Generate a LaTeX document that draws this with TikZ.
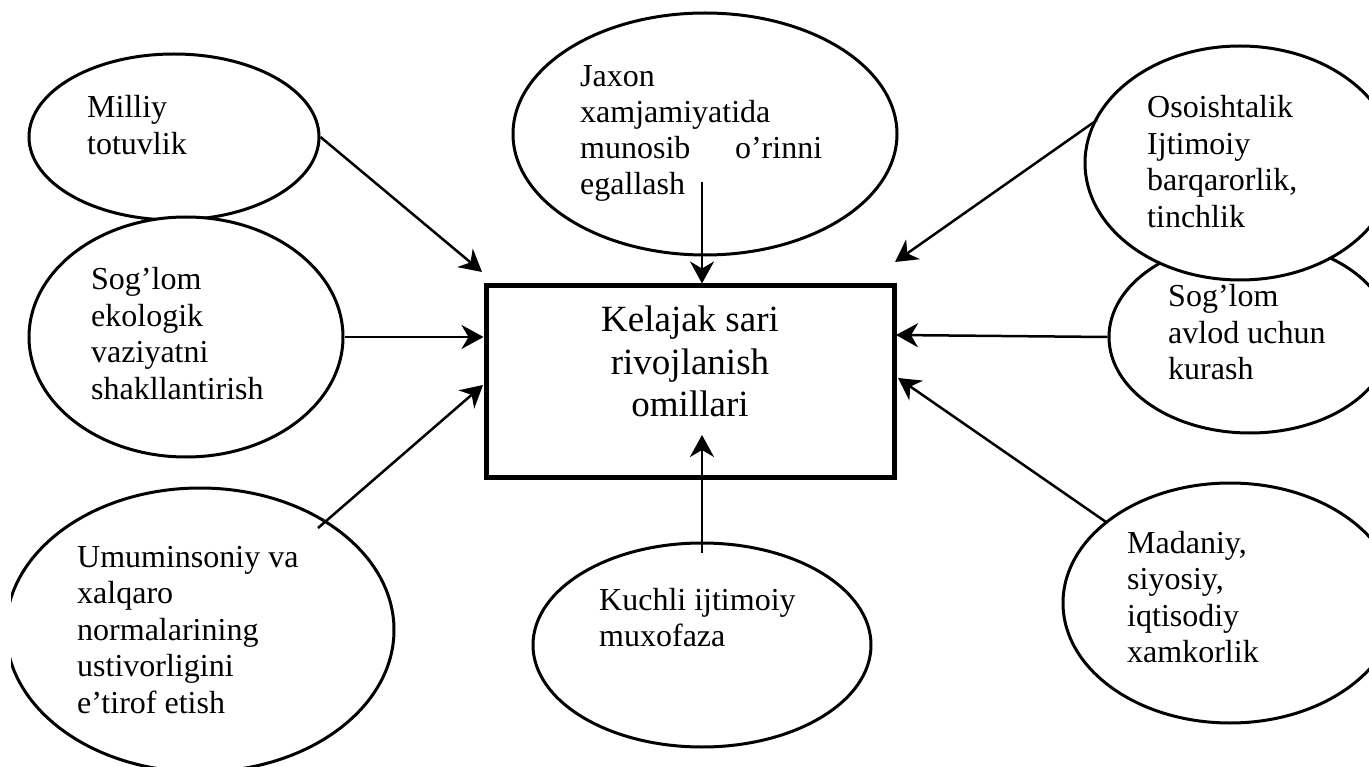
\documentclass[tikz,border=0pt]{standalone}
\usepackage{fontspec}
\setmainfont{Liberation Serif}
\usetikzlibrary{arrows.meta,shapes.geometric}
\tikzset{
  ell/.style={ellipse, draw, fill=white, line width=3pt, inner sep=0pt},
  txt/.style={anchor=base west, inner sep=0pt, font=\fontsize{32}{36.5}\selectfont},
  arr/.style={line width=2.5pt, -{Stealth[length=22pt,width=24pt,inset=7pt]}},
}
\begin{document}
\begin{tikzpicture}[x=1pt,y=-1pt]
\useasboundingbox (0,0) rectangle (1369,767);
\begin{scope}
\clip (11,0) rectangle (1369,767);
% ellipses
\node[ell, minimum width=290pt, minimum height=166pt] (milliy) at (174,137) {};
\node[ell, minimum width=314pt, minimum height=240pt] (ekologik) at (186,337) {};
\node[ell, minimum width=388pt, minimum height=284pt] (umum) at (200,630) {};
\node[ell, minimum width=384pt, minimum height=242pt] (jaxon) at (705,134) {};
\node[ell, minimum width=282pt, minimum height=192pt] (avlod) at (1250,337) {};
\node[ell, minimum width=310pt, minimum height=234pt] (osoi) at (1240,163) {};
\node[ell, minimum width=334pt, minimum height=240pt] (madaniy) at (1230,603) {};
\node[ell, minimum width=338pt, minimum height=204pt] (kuchli) at (702,645) {};
\end{scope}
% central box
\node[draw, line width=5pt, minimum width=408pt, minimum height=191pt, inner sep=0pt] (box) at (690,381.5) {};
\node[anchor=base, inner sep=0pt, font=\fontsize{37}{42.5}\selectfont] (boxtxt) at (690,332)
  {\begin{tabular}[t]{@{}c@{}}Kelajak sari\\ rivojlanish\\ omillari\end{tabular}};
% texts
\node[txt] (tmilliy) at (87,118) {\begin{tabular}[t]{@{}l@{}}Milliy\\ totuvlik\end{tabular}};
\node[txt] (tekologik) at (91,290) {\begin{tabular}[t]{@{}l@{}}Sog’lom\\ ekologik\\ vaziyatni\\ shakllantirish\end{tabular}};
\node[txt] (tumum) at (77,567) {\begin{tabular}[t]{@{}l@{}}Umuminsoniy va\\ xalqaro\\ normalarining\\ ustivorligini\\ e’tirof etish\end{tabular}};
\node[txt, font=\fontsize{32}{36}\selectfont] (tjaxon) at (580,87) {\begin{tabular}[t]{@{}l@{}}Jaxon\\ xamjamiyatida\\ \makebox[242pt][l]{munosib\hfill o’rinni}\\ egallash\end{tabular}};
\node[txt] (tosoi) at (1147,118) {\begin{tabular}[t]{@{}l@{}}Osoishtalik\\ Ijtimoiy\\ barqarorlik,\\ tinchlik\end{tabular}};
\node[txt] (tavlod) at (1168,307) {\begin{tabular}[t]{@{}l@{}}Sog’lom\\ avlod uchun\\ kurash\end{tabular}};
\node[txt] (tmadaniy) at (1127,553) {\begin{tabular}[t]{@{}l@{}}Madaniy,\\ siyosiy,\\ iqtisodiy\\ xamkorlik\end{tabular}};
\node[txt] (tkuchli) at (599,610) {\begin{tabular}[t]{@{}l@{}}Kuchli ijtimoiy\\ muxofaza\end{tabular}};
% connector end points
\coordinate (tipA) at (482,272);
\coordinate (umumS) at (318,528);
\coordinate (tipC) at (483,385);
\coordinate (jaxonS) at (702,182);
\coordinate (osoiS) at (1097,120);
\coordinate (tipE) at (895,262);
\coordinate (tipF) at (896,335);
\coordinate (madS) at (1106,522);
\coordinate (tipG) at (898,378);
\coordinate (kuchliS) at (702,553);
\coordinate (tipH) at (702,435);
% arrows
\draw[arr] (milliy.east) -- (tipA);
\draw[arr] (ekologik.east) -- (ekologik.east -| box.west);
\draw[arr] (umumS) -- (tipC);
\draw[arr] (jaxonS) -- (jaxonS |- box.north);
\draw[arr] (osoiS) -- (tipE);
\draw[arr] (avlod.west) -- (tipF);
\draw[arr] (madS) -- (tipG);
\draw[arr] (kuchliS) -- (tipH);
\end{tikzpicture}
\end{document}
